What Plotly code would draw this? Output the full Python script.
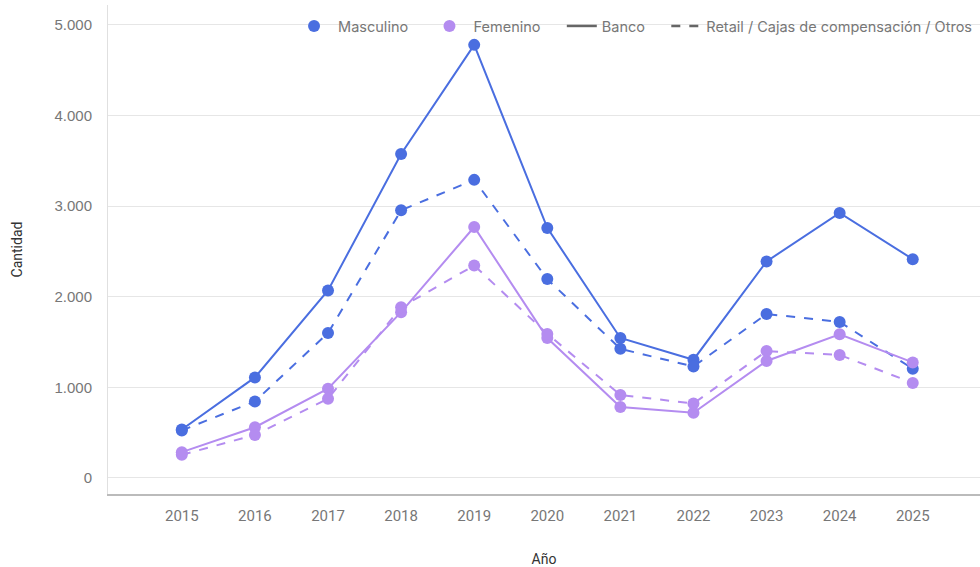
import plotly.graph_objects as go

years = [2015, 2016, 2017, 2018, 2019, 2020, 2021, 2022, 2023, 2024, 2025]

masc_banco = [535, 1110, 2070, 3575, 4780, 2760, 1545, 1305, 2390, 2925, 2415]
masc_retail = [525, 845, 1600, 2955, 3290, 2195, 1425, 1230, 1810, 1722, 1205]
fem_banco = [285, 560, 985, 1830, 2770, 1545, 784, 720, 1291, 1585, 1275]
fem_retail = [255, 475, 875, 1885, 2345, 1590, 916, 822, 1400, 1358, 1049]

azul = "#4a6ee0"
morado = "#b48cf0"
nb = "\u00a0"

fig = go.Figure()

# datos
fig.add_trace(go.Scatter(x=years, y=masc_banco, mode="lines+markers", showlegend=False,
                         line=dict(color=azul, width=2), marker=dict(size=12, color=azul)))
fig.add_trace(go.Scatter(x=years, y=masc_retail, mode="lines+markers", showlegend=False,
                         line=dict(color=azul, width=2, dash="dash"), marker=dict(size=12, color=azul)))
fig.add_trace(go.Scatter(x=years, y=fem_banco, mode="lines+markers", showlegend=False,
                         line=dict(color=morado, width=2), marker=dict(size=12, color=morado)))
fig.add_trace(go.Scatter(x=years, y=fem_retail, mode="lines+markers", showlegend=False,
                         line=dict(color=morado, width=2, dash="dash"), marker=dict(size=12, color=morado)))

# leyenda (entradas solo de muestra)
fig.add_trace(go.Scatter(x=[None], y=[None], mode="markers", name=nb + "Masculino" + nb * 4,
                         marker=dict(size=12, color=azul)))
fig.add_trace(go.Scatter(x=[None], y=[None], mode="markers", name=nb + "Femenino" + nb * 4,
                         marker=dict(size=12, color=morado)))
fig.add_trace(go.Scatter(x=[None], y=[None], mode="lines", name="Banco" + nb * 4,
                         line=dict(color="#666666", width=2.5)))
fig.add_trace(go.Scatter(x=[None], y=[None], mode="lines", name="Retail / Cajas de compensación / Otros",
                         line=dict(color="#666666", width=2.5, dash="dash")))

fig.update_layout(
    width=980, height=567,
    margin=dict(l=108, r=0, t=5, b=73),
    plot_bgcolor="white", paper_bgcolor="white",
    font=dict(family="Roboto", color="#777777"),
    legend=dict(orientation="h", x=0.9966, xanchor="right", y=0.957, yanchor="middle",
                bgcolor="rgba(0,0,0,0)", font=dict(size=14.5, color="#777777", family="Inter"),
                traceorder="normal"),
)

fig.update_xaxes(
    range=[2013.99, 2025.92], tickvals=years, showgrid=False, zeroline=False,
    showline=True, linecolor="#bbbbbb", linewidth=2,
    tickfont=dict(size=15, family="Roboto", color="#777777"), ticklabelstandoff=7,
    title=dict(text="Año", font=dict(size=14, color="#333333"), standoff=30),
)
fig.update_yaxes(
    range=[-177, 5220], tickvals=[0, 1000, 2000, 3000, 4000, 5000],
    ticktext=["0", "1.000", "2.000", "3.000", "4.000", "5.000"],
    showgrid=True, gridcolor="#e6e6e6", zeroline=False,
    showline=True, linecolor="#e0e0e0", linewidth=1,
    tickfont=dict(size=15, family="Liberation Sans", color="#777777"), ticklabelstandoff=12,
    title=dict(text="Cantidad", font=dict(size=14, color="#333333"), standoff=28),
)

fig.write_html("out.html", config={"displayModeBar": False},
               post_script="document.body.style.margin='0';")
